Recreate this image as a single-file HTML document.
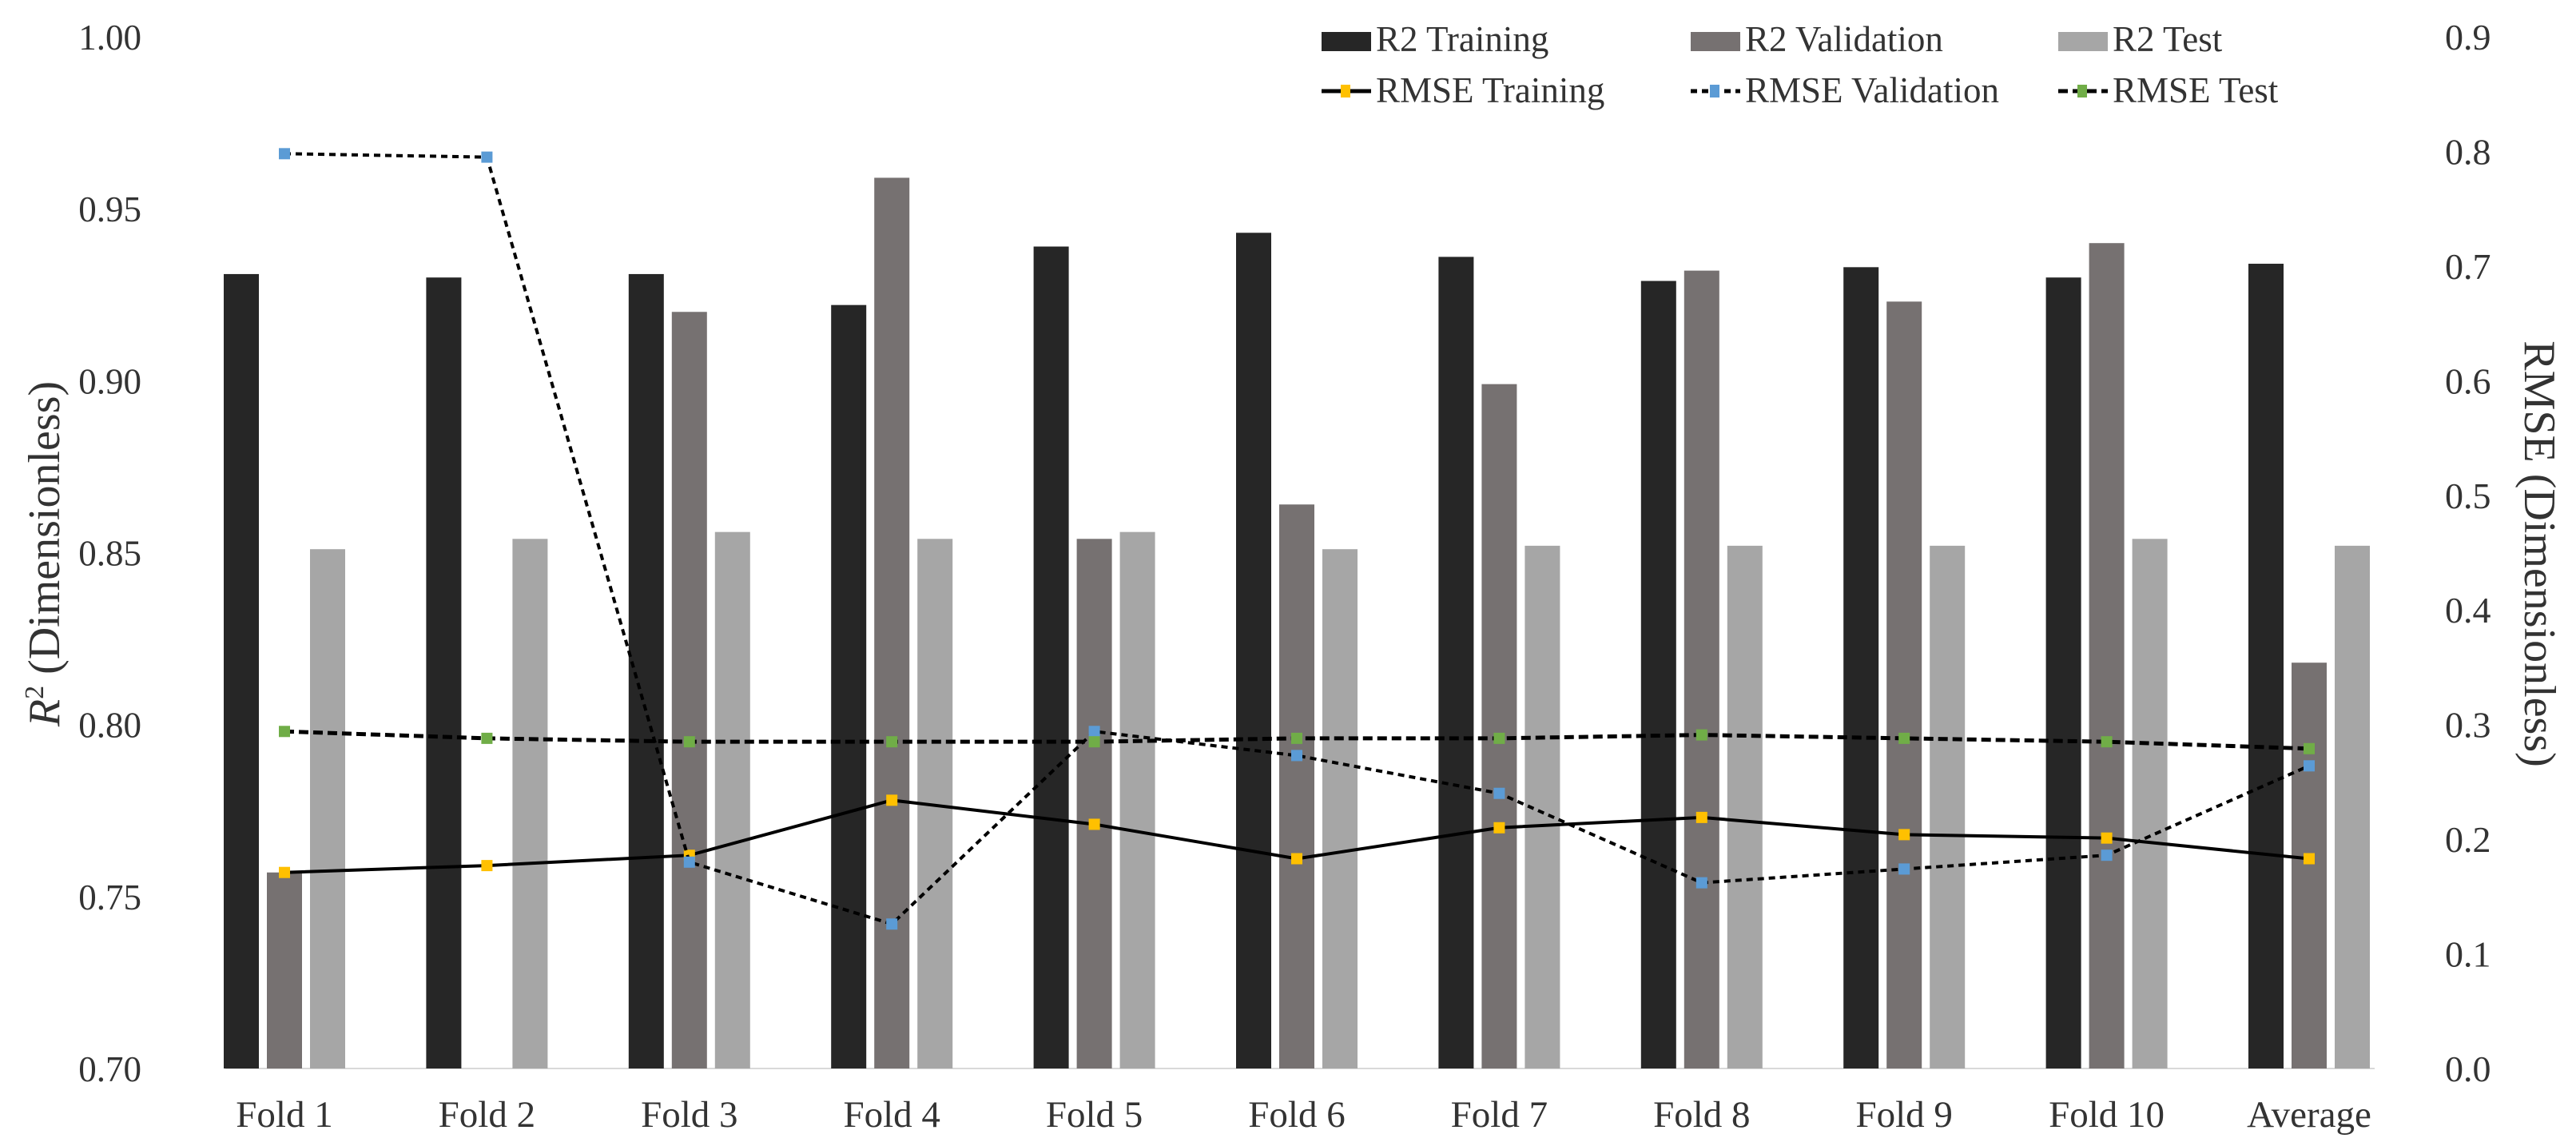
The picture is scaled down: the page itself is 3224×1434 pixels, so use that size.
<!DOCTYPE html>
<html><head><meta charset="utf-8"><style>
html,body{margin:0;padding:0;background:#fff}
svg{display:block;font-family:"Liberation Serif",serif}
</style></head><body>
<svg id="chart" width="3224" height="1434" viewBox="0 0 3224 1434" xmlns="http://www.w3.org/2000/svg"></svg>
<script>
const categories=["Fold 1","Fold 2","Fold 3","Fold 4","Fold 5","Fold 6","Fold 7","Fold 8","Fold 9","Fold 10","Average"];
const r2Training=[0.931,0.930,0.931,0.922,0.939,0.943,0.936,0.929,0.933,0.930,0.934];
const r2Validation=[0.757,0.700,0.920,0.959,0.854,0.864,0.899,0.932,0.923,0.940,0.818];
const r2Test=[0.851,0.854,0.856,0.854,0.856,0.851,0.852,0.852,0.852,0.854,0.852];
const rmseTraining=[0.171,0.177,0.186,0.234,0.213,0.183,0.210,0.219,0.204,0.201,0.183];
const rmseValidation=[0.798,0.795,0.180,0.126,0.294,0.273,0.240,0.162,0.174,0.186,0.264];
const rmseTest=[0.294,0.288,0.285,0.285,0.285,0.288,0.288,0.291,0.288,0.285,0.279];
const leftTicks=["0.70","0.75","0.80","0.85","0.90","0.95","1.00"];
const rightTicks=["0.0","0.1","0.2","0.3","0.4","0.5","0.6","0.7","0.8","0.9"];

const NS="http://www.w3.org/2000/svg";
const svg=document.getElementById('chart');
const Y0=1337,Y1=46;
const yL=v=>Y0-(v-0.70)/0.30*(Y0-Y1);
const yR=v=>Y0-v/0.9*(Y0-Y1);
const xC=i=>356+i*253.4;
function el(tag,attrs,parent){const e=document.createElementNS(NS,tag);for(const k in attrs)e.setAttribute(k,attrs[k]);(parent||svg).appendChild(e);return e;}

leftTicks.forEach(t=>{
  const e=el('text',{x:177,y:yL(parseFloat(t))+16,'text-anchor':'end','font-size':45,fill:'#333'});
  e.textContent=t;
  
  
});
rightTicks.forEach(t=>{
  const e=el('text',{x:3060,y:yR(parseFloat(t))+16,'text-anchor':'start','font-size':46,fill:'#333'});
  e.textContent=t;
  
  
});
const base=el('line',{x1:282,x2:2972,y1:Y0,y2:Y0,stroke:'#d9d9d9','stroke-width':2});



const BW=44,OFF=54;
const series=[[r2Training,'#262626',-OFF,'bar-r2-training'],[r2Validation,'#767171',0,'bar-r2-validation'],[r2Test,'#a6a6a6',OFF,'bar-r2-test']];
series.forEach(([arr,col,off,name])=>{
  arr.forEach((v,i)=>{
    const y=yL(v);
    const r=el('rect',{x:xC(i)+off-BW/2,y:y,width:BW,height:Math.max(0,Y0-y),fill:col});
    
    
  });
});
categories.forEach((c,i)=>{
  const t=el('text',{x:xC(i),y:1410,'text-anchor':'middle','font-size':47,fill:'#333'});
  t.textContent=c;
  
  
});
const lines=[[rmseTraining,'#ffc000','','rmse-training'],[rmseValidation,'#5b9bd5','8,6','rmse-validation'],[rmseTest,'#70ad47','12,6','rmse-test']];
lines.forEach(([arr,mc,dash,name])=>{
  const pts=arr.map((v,i)=>xC(i)+','+yR(v)).join(' ');
  const p=el('polyline',{points:pts,fill:'none',stroke:'#000','stroke-width':name==='rmse-test'?5:4,'stroke-dasharray':dash});
  
  
  arr.forEach((v,i)=>{
    const m=el('rect',{x:xC(i)-7,y:yR(v)-7,width:14,height:14,fill:mc});
    
    
  });
});
const lt=el('text',{transform:'translate(74,693) rotate(-90)','text-anchor':'middle','font-size':56,fill:'#333'});
lt.innerHTML='<tspan font-style="italic">R</tspan><tspan font-size="34" dy="-20">2</tspan><tspan dy="20"> (Dimensionless)</tspan>';


const rt=el('text',{transform:'translate(3160,693) rotate(90)','text-anchor':'middle','font-size':56,fill:'#333'});
rt.textContent='RMSE (Dimensionless)';



const leg=el('g',{});


const legBars=[['R2 Training','#262626',1654],['R2 Validation','#767171',2116],['R2 Test','#a6a6a6',2576]];
legBars.forEach(([lab,col,x])=>{
  const r=el('rect',{x:x,y:40,width:62,height:24,fill:col},leg);
  
  
  const t=el('text',{x:x+68,y:64,'font-size':45,fill:'#333'},leg);
  t.textContent=lab;
  
  
});
const legLines=[['RMSE   Training','#ffc000','',1654],['RMSE   Validation','#5b9bd5','8,6',2116],['RMSE   Test','#70ad47','12,6',2576]];
legLines.forEach(([lab,col,dash,x])=>{
  const l=el('line',{x1:x,x2:x+62,y1:114,y2:114,stroke:'#000','stroke-width':5,'stroke-dasharray':dash},leg);
  
  
  const m=el('rect',{x:x+24,y:106,width:12,height:16,fill:col},leg);
  
  
  const t=el('text',{x:x+68,y:128,'font-size':45,fill:'#333','xml:space':'preserve'},leg);
  t.textContent=lab;
  
  
});
</script>
</body></html>
